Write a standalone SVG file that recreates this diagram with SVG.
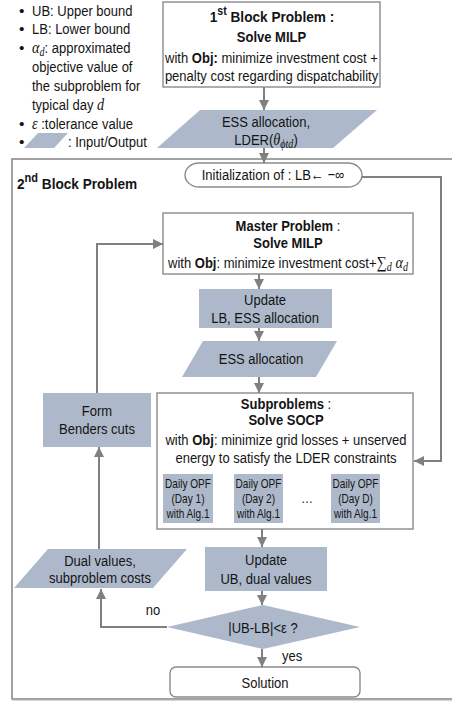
<svg xmlns="http://www.w3.org/2000/svg" width="452" height="702" viewBox="0 0 452 702">
<defs>
<style>
.t{font-family:"Liberation Sans","Arial",sans-serif;font-size:15.5px;fill:#141414}
.c{text-anchor:middle}
.b{font-weight:bold}
.m{font-family:"Liberation Serif","DejaVu Serif",serif;font-style:italic}
.s{font-size:12px}
.box{fill:#fff;stroke:#8a8a8a;stroke-width:1.4}
.io{fill:#adb9ca}
.ln{fill:none;stroke:#808080;stroke-width:2}
</style>
<marker id="ah" viewBox="0 0 10 10" refX="10" refY="5" markerWidth="10" markerHeight="10" markerUnits="userSpaceOnUse" orient="auto">
<path d="M0,0 L10,5 L0,10 z" fill="#808080"/>
</marker>
</defs>
<rect width="452" height="702" fill="#fff"/>

<g id="legend">
<text class="t" x="19" y="16">•</text><text class="t" transform="translate(32,0) scale(.84,1)" y="16">UB: Upper bound</text>
<text class="t" x="19" y="34">•</text><text class="t" transform="translate(32,0) scale(.84,1)" y="34">LB: Lower bound</text>
<text class="t" x="19" y="53">•</text><text class="t" transform="translate(32,0) scale(.84,1)" y="53"><tspan class="m" font-size="17px">α</tspan><tspan class="m s" dy="3">d</tspan><tspan dy="-3">: approximated</tspan></text>
<text class="t" transform="translate(32,0) scale(.84,1)" y="72">objective value of</text>
<text class="t" transform="translate(32,0) scale(.84,1)" y="91">the subproblem for</text>
<text class="t" transform="translate(32,0) scale(.84,1)" y="110">typical day <tspan class="m" font-size="17px">d</tspan></text>
<text class="t" x="19" y="129">•</text><text class="t" transform="translate(32,0) scale(.84,1)" y="129"><tspan class="m" font-size="17px">ε</tspan> :tolerance value</text>
<text class="t" x="19" y="147">•</text><polygon class="io" points="38,133 68,133 54,148 24,148"/><text class="t" transform="translate(68,0) scale(.84,1)" y="147">: Input/Output</text>
</g>

<g id="block2-frame">
<rect x="12" y="159" width="460" height="540" fill="none" stroke="#8a8a8a" stroke-width="1.6"/>
<line x1="12" y1="700" x2="452" y2="700" stroke="#b0b0b0" stroke-width="1.2"/>
<text class="t b" transform="translate(17,0) scale(.88,1)" y="189" font-size="20.5px">2<tspan font-size="12.5px" dy="-7">nd</tspan><tspan dy="7"> Block Problem</tspan></text>
</g>

<g id="block1">
<rect class="box" x="163" y="2" width="217" height="85"/>
<text class="t c b" transform="translate(272,0) scale(.88,1)" y="22" font-size="19.5px">1<tspan font-size="12px" dy="-7">st</tspan><tspan dy="7"> Block Problem :</tspan></text>
<text class="t c b" transform="translate(271.5,0) scale(.84,1)" y="42">Solve MILP</text>
<text class="t c" transform="translate(271.5,0) scale(.84,1)" y="63">with <tspan class="b">Obj:</tspan> minimize investment cost +</text>
<text class="t c" transform="translate(271.5,0) scale(.84,1)" y="81">penalty cost regarding dispatchability</text>
</g>

<g id="io-ess-lder">
<polygon class="io" points="200,110 377,110 333,148 157,148"/>
<text class="t c" transform="translate(266,0) scale(.84,1)" y="127">ESS allocation,</text>
<text class="t c" transform="translate(266,0) scale(.84,1)" y="145">LDER(<tspan class="m" font-size="17px">θ</tspan><tspan class="m s" dy="3">ϕtd</tspan><tspan dy="-3">)</tspan></text>
</g>

<g id="init">
<rect class="box" x="185" y="163" width="177" height="24" rx="14" ry="12"/>
<text class="t c" transform="translate(273,0) scale(.84,1)" y="180">Initialization of  : LB← −∞</text>
</g>

<g id="master">
<rect class="box" x="163" y="213" width="250" height="61"/>
<text class="t c" transform="translate(288,0) scale(.84,1)" y="231"><tspan class="b">Master Problem</tspan> :</text>
<text class="t c b" transform="translate(288,0) scale(.84,1)" y="248">Solve MILP</text>
<text class="t c" transform="translate(288,0) scale(.84,1)" y="268">with <tspan class="b">Obj</tspan>: minimize investment cost+<tspan font-family="Liberation Serif,serif" font-size="17px">∑</tspan><tspan class="m s" dy="3">d</tspan><tspan dy="-3"> </tspan><tspan class="m" font-size="17px">α</tspan><tspan class="m s" dy="3">d</tspan></text>
</g>

<g id="update-lb">
<rect class="io" x="199" y="289" width="133" height="39"/>
<text class="t c" transform="translate(265,0) scale(.84,1)" y="305">Update</text>
<text class="t c" transform="translate(265,0) scale(.84,1)" y="323">LB, ESS allocation</text>
</g>

<g id="io-ess">
<polygon class="io" points="203,341 337,341 316,377 182,377"/>
<text class="t c" transform="translate(261,0) scale(.84,1)" y="364">ESS allocation</text>
</g>

<g id="subproblems">
<rect class="box" x="157" y="393" width="256" height="136"/>
<text class="t c" transform="translate(286,0) scale(.84,1)" y="409"><tspan class="b">Subproblems</tspan> :</text>
<text class="t c b" transform="translate(286,0) scale(.84,1)" y="425">Solve SOCP</text>
<text class="t c" transform="translate(286,0) scale(.84,1)" y="445">with <tspan class="b">Obj</tspan>: minimize grid losses + unserved</text>
<text class="t c" transform="translate(286,0) scale(.84,1)" y="463">energy to satisfy the LDER constraints</text>
</g>

<g id="opf1">
<rect class="io" x="163" y="474" width="50" height="49"/>
<text class="t c s" transform="translate(188,0) scale(.84,1)" y="488">Daily OPF</text>
<text class="t c s" transform="translate(188,0) scale(.84,1)" y="503">(Day 1)</text>
<text class="t c s" transform="translate(188,0) scale(.84,1)" y="518">with Alg.1</text>
</g>
<g id="opf2">
<rect class="io" x="234" y="474" width="49" height="49"/>
<text class="t c s" transform="translate(258.5,0) scale(.84,1)" y="488">Daily OPF</text>
<text class="t c s" transform="translate(258.5,0) scale(.84,1)" y="503">(Day 2)</text>
<text class="t c s" transform="translate(258.5,0) scale(.84,1)" y="518">with Alg.1</text>
</g>
<text class="t c s" x="307" y="503">…</text>
<g id="opfD">
<rect class="io" x="331" y="474" width="49" height="49"/>
<text class="t c s" transform="translate(355.5,0) scale(.84,1)" y="488">Daily OPF</text>
<text class="t c s" transform="translate(355.5,0) scale(.84,1)" y="503">(Day D)</text>
<text class="t c s" transform="translate(355.5,0) scale(.84,1)" y="518">with Alg.1</text>
</g>

<g id="update-ub">
<rect class="io" x="205" y="547" width="122" height="44"/>
<text class="t c" transform="translate(266,0) scale(.84,1)" y="565">Update</text>
<text class="t c" transform="translate(266,0) scale(.84,1)" y="584">UB,  dual values</text>
</g>

<g id="decision">
<polygon class="io" points="263,605 360,627 263,649 167,627"/>
<text class="t c" transform="translate(263,0) scale(.84,1)" y="633">|UB-LB|&lt;ε ?</text>
</g>

<g id="solution">
<rect class="box" x="170" y="667" width="190" height="30" rx="6"/>
<text class="t c" transform="translate(265,0) scale(.84,1)" y="688" font-size="19px">Solution</text>
</g>

<g id="io-dual">
<polygon class="io" points="48,549 187,549 153,588 14,588"/>
<text class="t c" transform="translate(100,0) scale(.84,1)" y="566">Dual values,</text>
<text class="t c" transform="translate(100,0) scale(.84,1)" y="583">subproblem costs</text>
</g>

<g id="benders">
<rect class="io" x="43" y="393" width="108" height="54"/>
<text class="t c" transform="translate(97,0) scale(.84,1)" y="416">Form</text>
<text class="t c" transform="translate(97,0) scale(.84,1)" y="434">Benders cuts</text>
</g>

<g id="connectors">
<path class="ln" d="M264,87 V110" marker-end="url(#ah)"/>
<path class="ln" d="M264,148 V163" marker-end="url(#ah)"/>
<path class="ln" d="M362,177 H441 V461 H414" marker-end="url(#ah)"/>
<path class="ln" d="M259,274 V289" marker-end="url(#ah)"/>
<path class="ln" d="M259,328 V341" marker-end="url(#ah)"/>
<path class="ln" d="M259,377 V393" marker-end="url(#ah)"/>
<path class="ln" d="M262,529 V547" marker-end="url(#ah)"/>
<path class="ln" d="M262,591 V605" marker-end="url(#ah)"/>
<path class="ln" d="M262,649 V667" marker-end="url(#ah)"/>
<path class="ln" d="M167,627 H101 V589" marker-end="url(#ah)"/>
<path class="ln" d="M99,549 V447" marker-end="url(#ah)"/>
<path class="ln" d="M97,393 V244 H163" marker-end="url(#ah)"/>
<text class="t c" transform="translate(153,0) scale(.84,1)" y="615">no</text>
<text class="t" transform="translate(282,0) scale(.84,1)" y="661">yes</text>
</g>
</svg>
